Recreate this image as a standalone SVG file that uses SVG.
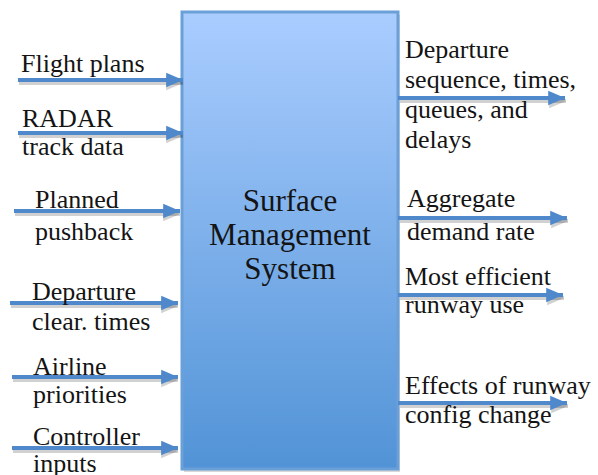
<svg xmlns="http://www.w3.org/2000/svg" width="598" height="475" viewBox="0 0 598 475">
<style>
text{font-family:'Liberation Serif','Times New Roman',serif;fill:#141414}
.lbl{font-size:26px}
.ctr{font-size:31px;text-anchor:middle}
.arr{stroke:#4f89cc;stroke-width:4;fill:none;marker-end:url(#ah)}
.shd{stroke:#000;stroke-opacity:0.18;stroke-width:4;fill:none;marker-end:url(#ahs)}
</style>
<defs>
<linearGradient id="g" x1="0" y1="0" x2="0" y2="1">
<stop offset="0" stop-color="#aacdff"/>
<stop offset="1" stop-color="#5193d6"/>
</linearGradient>
<marker id="ah" markerWidth="5" markerHeight="4" refX="4.2" refY="1.9" orient="auto" markerUnits="strokeWidth">
<path d="M0,0.1 L4.2,1.9 L0,3.7 Z" fill="#4f89cc"/>
</marker>
<marker id="ahs" markerWidth="5" markerHeight="4" refX="4.2" refY="1.9" orient="auto" markerUnits="strokeWidth">
<path d="M0,0.1 L4.2,1.9 L0,3.7 Z" fill="#000" fill-opacity="0.18"/>
</marker>
</defs>
<rect width="598" height="475" fill="#fff"/>
<g id="sms">
<rect x="184" y="15" width="216" height="457" fill="#000" fill-opacity="0.15"/>
<rect x="182" y="12" width="216" height="457" fill="url(#g)" stroke="#6a9fd8" stroke-width="3"/>
<text class="ctr" x="290" y="211">Surface</text>
<text class="ctr" x="290" y="245">Management</text>
<text class="ctr" x="290" y="279">System</text>
</g>
<g id="connectors">
<path class="shd" d="M19,83 H183"/>
<path class="shd" d="M19,136 H183"/>
<path class="shd" d="M15,214 H180"/>
<path class="shd" d="M11,306 H178"/>
<path class="shd" d="M13,380 H178"/>
<path class="shd" d="M13,451 H178"/>
<path class="shd" d="M400,101 H566"/>
<path class="shd" d="M400,221 H568"/>
<path class="shd" d="M400,298 H564"/>
<path class="shd" d="M400,406 H568"/>
<path class="arr" d="M18,80 H183"/>
<path class="arr" d="M18,133 H183"/>
<path class="arr" d="M14,211 H180"/>
<path class="arr" d="M10,303 H178"/>
<path class="arr" d="M12,377 H178"/>
<path class="arr" d="M12,448 H178"/>
<path class="arr" d="M398,98 H565"/>
<path class="arr" d="M398,218 H567"/>
<path class="arr" d="M398,295 H563"/>
<path class="arr" d="M398,403 H567"/>
</g>
<g id="in-flight-plans"><text class="lbl" x="21" y="72">Flight plans</text></g>
<g id="in-radar"><text class="lbl" x="22" y="127">RADAR</text><text class="lbl" x="22" y="155">track data</text></g>
<g id="in-pushback"><text class="lbl" x="35" y="208">Planned</text><text class="lbl" x="35" y="240">pushback</text></g>
<g id="in-clear"><text class="lbl" x="32" y="300">Departure</text><text class="lbl" x="32" y="330">clear. times</text></g>
<g id="in-airline"><text class="lbl" x="33" y="375">Airline</text><text class="lbl" x="33" y="403">priorities</text></g>
<g id="in-controller"><text class="lbl" x="33" y="445">Controller</text><text class="lbl" x="33" y="472">inputs</text></g>
<g id="out-departure"><text class="lbl" x="405" y="58">Departure</text><text class="lbl" x="405" y="88">sequence, times,</text><text class="lbl" x="405" y="118">queues, and</text><text class="lbl" x="405" y="148">delays</text></g>
<g id="out-demand"><text class="lbl" x="407" y="207">Aggregate</text><text class="lbl" x="407" y="240">demand rate</text></g>
<g id="out-runway"><text class="lbl" x="405" y="285">Most efficient</text><text class="lbl" x="405" y="313">runway use</text></g>
<g id="out-config"><text class="lbl" x="405" y="394">Effects of runway</text><text class="lbl" x="405" y="423">config change</text></g>
</svg>
